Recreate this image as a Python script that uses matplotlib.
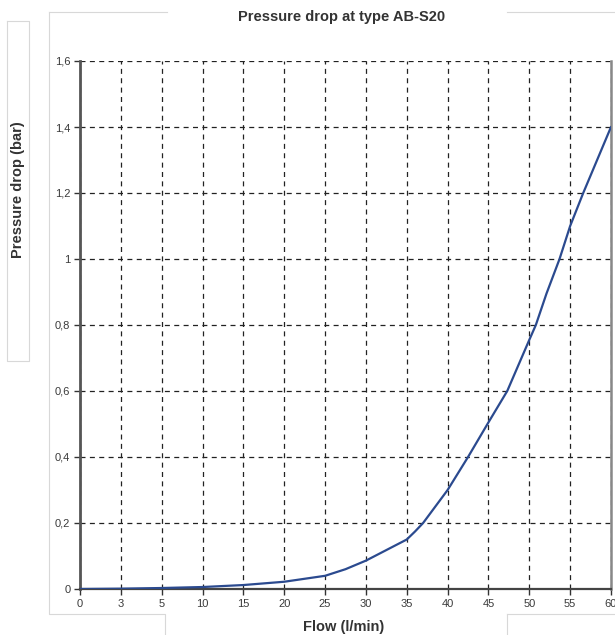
import numpy as np
import matplotlib.pyplot as plt
from matplotlib.lines import Line2D

plt.rcParams['font.family'] = ['Liberation Sans', 'DejaVu Sans']

# tick labels on the flow axis (evenly spaced on the original chart)
flow_ticks = [0, 3, 5, 10, 15, 20, 25, 30, 35, 40, 45, 50, 55, 60]
dp_ticks = [0, 0.2, 0.4, 0.6, 0.8, 1.0, 1.2, 1.4, 1.6]
dp_labels = ["0", "0,2", "0,4", "0,6", "0,8", "1", "1,2", "1,4", "1,6"]

# curve: flow (l/min) vs pressure drop (bar)
flow = [0, 3, 5, 10, 15, 20, 25, 27.5, 30, 32.5, 35, 36, 37, 38.5, 40, 42.5,
        45, 47.3, 50, 50.8, 52.1, 53.7, 55, 56.6, 58.3, 60]
dp = [0, 0.001, 0.003, 0.006, 0.012, 0.022, 0.04, 0.06, 0.086, 0.118, 0.15,
      0.174, 0.2, 0.25, 0.30, 0.40, 0.505, 0.6, 0.755, 0.8, 0.895, 1.0, 1.1,
      1.2, 1.3, 1.4]

positions = np.arange(len(flow_ticks))


def fwd(x):
    return np.interp(x, flow_ticks, positions)


def inv(p):
    return np.interp(p, positions, flow_ticks)


fig = plt.figure(figsize=(6.15, 6.35), dpi=100)
W, H = 615, 635
ax = fig.add_axes([80 / W, 1 - 589 / H, (611 - 80) / W, (589 - 61) / H])

ax.set_xscale('function', functions=(fwd, inv))
ax.plot(flow, dp, color='#2b4a8f', lw=1.6, zorder=3,
        solid_capstyle='round', solid_joinstyle='round')

ax.set_xlim(0, 60)
ax.set_ylim(0, 1.6)
ax.set_xticks(flow_ticks)
ax.set_xticklabels([str(v) for v in flow_ticks])
ax.set_yticks(dp_ticks)
ax.set_yticklabels(dp_labels)
ax.minorticks_off()

ax.grid(True, color='#222222', linestyle=(0, (4, 3.5)), lw=0.9)
ax.tick_params(axis='both', length=4, width=1, color='#333333',
               labelsize=8, labelcolor='#3a3a3a', pad=3)

ax.spines['top'].set_visible(False)
ax.spines['left'].set_color('#555555')
ax.spines['left'].set_linewidth(2)
ax.spines['bottom'].set_color('#444444')
ax.spines['bottom'].set_linewidth(1.6)
ax.spines['right'].set_color('#888888')
ax.spines['right'].set_linewidth(1.8)

fig.text(342 / W, 1 - 17 / H, "Pressure drop at type AB-S20", ha='center',
         va='center', fontsize=10.5, fontweight='bold', color='#333333')
fig.text(344 / W, 1 - 627 / H, "Flow (l/min)", ha='center', va='center',
         fontsize=10.5, fontweight='bold', color='#333333')
fig.text(18 / W, 1 - 190 / H, "Pressure drop (bar)", ha='center', va='center',
         rotation=90, fontsize=10.5, fontweight='bold', color='#333333')

# faint frame lines of the original screenshot
frame = '#d8d8d8'
segs = [
    ([7, 29, 29, 7, 7], [21, 21, 361, 361, 21]),
    ([49, 49, 165, 165], [12, 614, 614, 635]),
    ([49, 167], [12, 12]),
    ([507, 615], [12, 12]),
    ([507, 507], [635, 614]),
    ([507, 615], [614, 614]),
]
for xs, ys in segs:
    fig.add_artist(Line2D([x / W for x in xs], [1 - y / H for y in ys],
                          color=frame, lw=0.8))

fig.savefig("out.png", dpi=100)
